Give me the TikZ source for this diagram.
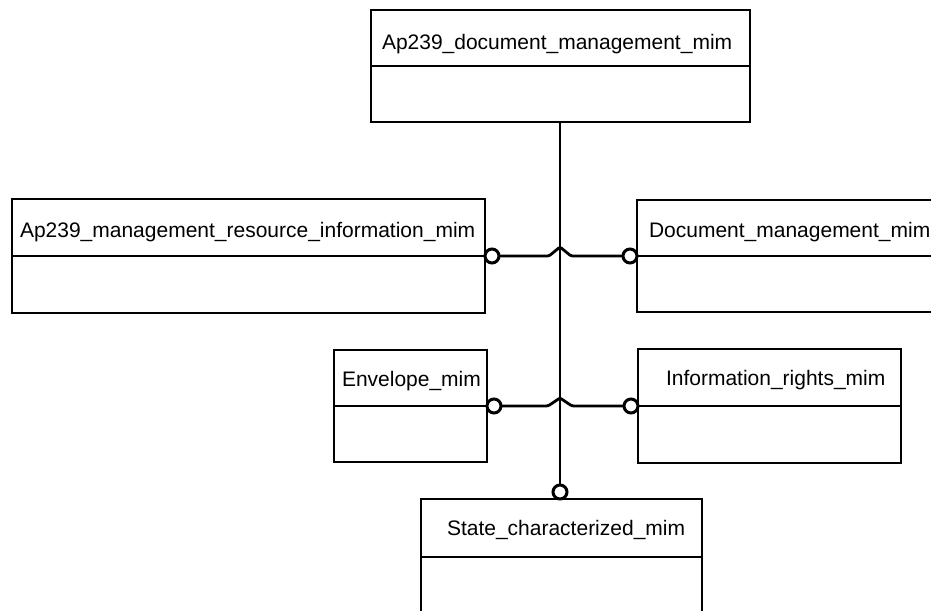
\documentclass[tikz,border=0pt]{standalone}
\usepackage{fontspec}
\setmainfont{Liberation Sans}
\usetikzlibrary{
    positioning,
    calc
}
\tikzset{
    % Boxes
    module box/.style={draw,rectangle,line width=2.6pt,inner sep=0pt,outer sep=0pt,anchor=north west},
    divider/.style={line width=1.5pt},
    box label/.style={anchor=base west,inner sep=0pt,outer sep=0pt},
    %
    % Connectors
    link/.style={line width=2.8pt},
    lollipop/.style={circle,draw,fill=white,line width=3pt,inner sep=0pt,outer sep=0pt,minimum size=14pt},
    hop/.style={rounded corners=1.5pt}
}
\tikzstyle{every node}=[font=\fontsize{21}{25}\selectfont]

\begin{document}
\begin{tikzpicture}[x=1pt,y=-1pt]
        \useasboundingbox (0,0) rectangle (931,610);
        % the modules
        \node[module box,minimum width=379pt,minimum height=112pt] (docmim) at (371,10) {};
        \node[module box,minimum width=473pt,minimum height=114pt] (resmim) at (12,199) {};
        \node[module box,minimum width=330pt,minimum height=112pt] (mgmtmim) at (637,200) {};
        \node[module box,minimum width=153pt,minimum height=112pt] (envmim) at (334,350) {};
        \node[module box,minimum width=263pt,minimum height=114pt] (rightsmim) at (638,349) {};
        \node[module box,minimum width=281pt,minimum height=116pt] (statemim) at (421,499) {};
        \foreach \b in {docmim,resmim,mgmtmim,envmim,rightsmim,statemim}
            \draw[divider] (\b.west) -- (\b.east);
        \node[box label] (doctext) at ($(docmim.north west)+(11,40)$) {Ap239\_document\_management\_mim};
        \node[box label] (restext) at ($(resmim.north west)+(8,38)$) {Ap239\_management\_resource\_information\_mim};
        \node[box label] (mgmttext) at ($(mgmtmim.north west)+(12,37)$) {Document\_management\_mim};
        \node[box label] (envtext) at ($(envmim.north west)+(8,36)$) {Envelope\_mim};
        \node[box label] (rightstext) at ($(rightsmim.north west)+(28,36)$) {Information\_rights\_mim};
        \node[box label] (statetext) at ($(statemim.north west)+(26,36)$) {State\_characterized\_mim};
        % the interfaces
        \node[lollipop,anchor=west] (reslink) at (resmim.east) {};
        \node[lollipop,anchor=east] (mgmtlink) at (mgmtmim.west) {};
        \node[lollipop,anchor=west] (envlink) at (envmim.east) {};
        \node[lollipop,anchor=east] (rightslink) at (rightsmim.west) {};
        \node[lollipop,anchor=south] (statelink) at ($(statemim.north west)+(139,0)$) {};
        \draw[link] (statelink.north) -- (docmim.south -| statelink);
        \coordinate (hopA) at (statelink |- reslink);
        \coordinate (hopB) at (statelink |- envlink);
        \draw[link,hop] (reslink.east) -- ([xshift=-11pt]hopA) -- ([yshift=9pt]hopA) -- ([xshift=11pt]hopA) -- (mgmtlink.west);
        \draw[link,hop] (envlink.east) -- ([xshift=-12pt]hopB) -- ([yshift=8pt]hopB) -- ([xshift=12pt]hopB) -- (rightslink.west);
    \end{tikzpicture}
\end{document}
